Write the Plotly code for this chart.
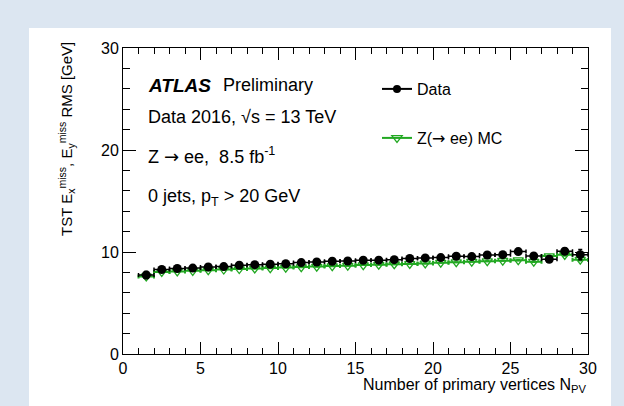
import plotly.graph_objects as go

# ---- data ----
bin_centers = [i + 0.5 for i in range(1, 30)]
data_y = [7.75, 8.28, 8.38, 8.42, 8.53, 8.57, 8.70, 8.76, 8.80, 8.85,
          8.96, 9.02, 9.09, 9.12, 9.19, 9.20, 9.25, 9.36, 9.42, 9.45,
          9.58, 9.55, 9.71, 9.74, 10.04, 9.61, 9.29, 10.07, 9.74]
data_err = [0.35, 0.08, 0.06, 0.05, 0.05, 0.05, 0.05, 0.05, 0.05, 0.05,
            0.05, 0.05, 0.05, 0.05, 0.05, 0.05, 0.06, 0.06, 0.07, 0.08,
            0.09, 0.1, 0.12, 0.14, 0.16, 0.18, 0.2, 0.3, 0.5]
mc_y = [7.6, 8.05, 8.1, 8.15, 8.22, 8.28, 8.33, 8.38, 8.42, 8.47,
        8.52, 8.57, 8.62, 8.66, 8.72, 8.75, 8.8, 8.83, 8.88, 8.95,
        9.0, 9.05, 9.1, 9.15, 9.2, 9.05, 9.6, 9.72, 9.25]
mc_err = [0.15] + [0.03] * 23 + [0.05, 0.06, 0.08, 0.1, 0.12]
bin_half = [0.5] * len(bin_centers)

x_ticks = [0, 5, 10, 15, 20, 25, 30]
y_ticks = [0, 10, 20, 30]

GREEN = "#22a822"
FONT = "Liberation Sans, Arial, sans-serif"
ARROW = '<span style="font-family:DejaVu Sans">→</span>'

# plot-area geometry in pixels (for annotation placement)
W, H = 624, 406
L, R, T, B = 123, 36, 48, 52
PW, PH = W - L - R, H - T - B


def px(xp):
    return (xp - L) / PW


def py(yp):
    return (H - B - yp) / PH


fig = go.Figure()

fig.add_trace(go.Scatter(
    x=bin_centers, y=mc_y, mode="markers", showlegend=False,
    marker=dict(symbol="triangle-down-open", size=9, color=GREEN, line=dict(width=1.3)),
    error_x=dict(type="data", array=bin_half, color=GREEN, thickness=2, width=2),
    error_y=dict(type="data", array=mc_err, color=GREEN, thickness=1.5, width=2),
))
fig.add_trace(go.Scatter(
    x=bin_centers, y=data_y, mode="markers", showlegend=False,
    marker=dict(symbol="circle", size=9, color="black"),
    error_x=dict(type="data", array=bin_half, color="black", thickness=1.5, width=2),
    error_y=dict(type="data", array=data_err, color="black", thickness=1.5, width=2),
))

# legend-only entries
fig.add_trace(go.Scatter(
    x=[None], y=[None], mode="lines+markers", name="Data", legend="legend",
    line=dict(color="black", width=2), marker=dict(symbol="circle", size=8, color="black"),
))
fig.add_trace(go.Scatter(
    x=[None], y=[None], mode="lines+markers", name=f"Z({ARROW} ee) MC", legend="legend2",
    line=dict(color=GREEN, width=2),
    marker=dict(symbol="triangle-down-open", size=9, color=GREEN, line=dict(width=1.3)),
))

axis_common = dict(
    showgrid=False, zeroline=False, showline=True, linecolor="black", linewidth=1,
    mirror="ticks", ticks="inside", tickcolor="black",
    tickfont=dict(family=FONT, size=16, color="black"),
)

fig.update_xaxes(range=[0, 30], tickmode="array", tickvals=x_ticks,
                 ticktext=[str(v) for v in x_ticks], ticklen=12, tickwidth=1,
                 minor=dict(dtick=1, ticks="inside", ticklen=6, tickcolor="black", showgrid=False),
                 **axis_common)
fig.update_yaxes(range=[0, 30], tickmode="array", tickvals=y_ticks,
                 ticktext=[str(v) for v in y_ticks], ticklen=13, tickwidth=1,
                 minor=dict(dtick=2, ticks="inside", ticklen=7, tickcolor="black", showgrid=False),
                 **axis_common)

ann = [
    dict(x=px(146), y=py(85), text="<b><i>ATLAS</i></b>", font=dict(size=19)),
    dict(x=px(221), y=py(85), text="Preliminary"),
    dict(x=px(146), y=py(117), text="Data 2016, √s = 13 TeV"),
    dict(x=px(146), y=py(155), text=f"Z {ARROW} ee,  8.5 fb<sup>-1</sup>"),
    dict(x=px(146), y=py(197), text="0 jets, p<sub>T</sub> > 20 GeV"),
]
annotations = []
for a in ann:
    d = dict(xref="paper", yref="paper", xanchor="left", yanchor="middle",
             showarrow=False, font=dict(family=FONT, size=18, color="black"))
    f = a.pop("font", None)
    d.update(a)
    if f:
        d["font"] = dict(family=FONT, size=f["size"], color="black")
    annotations.append(d)

annotations.append(dict(
    xref="paper", yref="paper", x=px(66), y=py(40), xanchor="center", yanchor="top",
    textangle=-90, showarrow=False,
    text="TST E<sub>x</sub><sup>miss</sup>, E<sub>y</sub><sup>miss</sup> RMS [GeV]",
    font=dict(family=FONT, size=15, color="black"),
))
annotations.append(dict(
    xref="paper", yref="paper", x=px(589), y=py(385), xanchor="right", yanchor="middle",
    showarrow=False, text="Number of primary vertices N<sub>PV</sub>",
    font=dict(family=FONT, size=16, color="black"),
))

legend_common = dict(bgcolor="rgba(0,0,0,0)", borderwidth=0, xanchor="left", yanchor="middle",
                     font=dict(family=FONT, size=16, color="black"), itemwidth=30)

fig.update_layout(
    width=W, height=H,
    margin=dict(l=L, r=R, t=T, b=B),
    paper_bgcolor="#dce6f1", plot_bgcolor="white",
    annotations=annotations,
    legend=dict(x=px(377), y=py(89), **legend_common),
    legend2=dict(x=px(377), y=py(138), **legend_common),
    shapes=[dict(type="rect", xref="paper", yref="paper", layer="below",
                 x0=px(29), x1=px(611), y0=py(420), y1=py(28),
                 fillcolor="white", line=dict(width=0))],
)

fig.write_html("out.html")
